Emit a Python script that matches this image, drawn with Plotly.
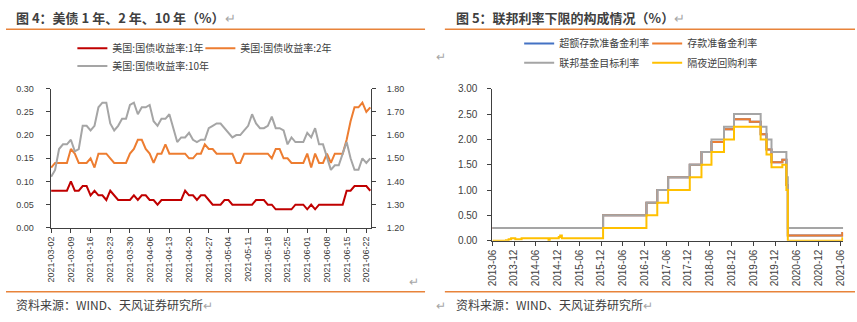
import pandas as pd
import plotly.graph_objects as go

W, H = 857, 322

# ---------------- left chart data (daily, business days) ----------------
dates_left = [d.strftime('%Y-%m-%d') for d in pd.bdate_range('2021-03-02', '2021-06-23')]
ticks_left = ['2021-03-02', '2021-03-09', '2021-03-16', '2021-03-23', '2021-03-30',
              '2021-04-06', '2021-04-13', '2021-04-20', '2021-04-27', '2021-05-04',
              '2021-05-11', '2021-05-18', '2021-05-25', '2021-06-01', '2021-06-08',
              '2021-06-15', '2021-06-22']

us1y = [0.08, 0.08, 0.08, 0.08, 0.08,
        0.10, 0.08, 0.08, 0.09, 0.09,
        0.07, 0.08, 0.07, 0.07, 0.06,
        0.08, 0.07, 0.06, 0.06, 0.06,
        0.06, 0.07, 0.06, 0.07, 0.07,
        0.06, 0.06, 0.05, 0.06, 0.06,
        0.06, 0.06, 0.06, 0.06, 0.08,
        0.07, 0.07, 0.06, 0.07, 0.07,
        0.06, 0.05, 0.05, 0.05, 0.06,
        0.06, 0.05, 0.05, 0.05, 0.05,
        0.05, 0.05, 0.06, 0.06, 0.06,
        0.05, 0.05, 0.04, 0.04, 0.04,
        0.04, 0.04, 0.05, 0.05, 0.05,
        0.04, 0.05, 0.04, 0.05, 0.05,
        0.05, 0.05, 0.05, 0.05, 0.05,
        0.08, 0.08, 0.09, 0.09, 0.09,
        0.09, 0.08]

us2y = [0.13, 0.14, 0.14, 0.14, 0.14,
        0.17, 0.16, 0.14, 0.14, 0.14,
        0.15, 0.13, 0.16, 0.16, 0.16,
        0.15, 0.14, 0.14, 0.14, 0.14,
        0.16, 0.17, 0.19, 0.19, 0.17,
        0.16, 0.14, 0.16, 0.16, 0.18,
        0.16, 0.16, 0.16, 0.16, 0.16,
        0.15, 0.15, 0.16, 0.16, 0.18,
        0.17, 0.17, 0.16, 0.16, 0.16,
        0.16, 0.16, 0.14, 0.14, 0.16,
        0.16, 0.16, 0.16, 0.16, 0.16,
        0.16, 0.15, 0.17, 0.17, 0.15,
        0.15, 0.14, 0.14, 0.14, 0.14,
        0.16, 0.13, 0.16, 0.14, 0.14,
        0.16, 0.14, 0.16, 0.16, 0.16,
        0.19, 0.23, 0.26, 0.26, 0.27,
        0.25, 0.26]

us10y = [1.42, 1.45, 1.54, 1.56, 1.56,
         1.58, 1.53, 1.54, 1.64, 1.64,
         1.62, 1.64, 1.72, 1.74, 1.74,
         1.65, 1.62, 1.64, 1.67, 1.67,
         1.73, 1.74, 1.69, 1.72, 1.72,
         1.73, 1.66, 1.64, 1.67, 1.67,
         1.69, 1.63, 1.57, 1.59, 1.59,
         1.61, 1.58, 1.57, 1.58, 1.58,
         1.63, 1.64, 1.65, 1.65, 1.63,
         1.61, 1.59, 1.60, 1.60, 1.62,
         1.64, 1.69, 1.65, 1.63, 1.63,
         1.64, 1.68, 1.63, 1.63, 1.62,
         1.56, 1.59, 1.57, 1.57, 1.57,
         1.61, 1.59, 1.63, 1.56, 1.56,
         1.51, 1.45, 1.47, 1.47, 1.52,
         1.57, 1.50, 1.45, 1.45, 1.50,
         1.48, 1.50]

# ---------------- right chart data (step series, change dates) ----------------
ticks_right = ['2013-06', '2013-12', '2014-06', '2014-12', '2015-06', '2015-12',
               '2016-06', '2016-12', '2017-06', '2017-12', '2018-06', '2018-12',
               '2019-06', '2019-12', '2020-06', '2020-12', '2021-06']

ioer_dates = ['2013-06-01', '2015-12-17', '2016-12-15', '2017-03-16', '2017-06-15',
              '2017-12-14', '2018-03-22', '2018-06-14', '2018-09-27', '2018-12-20',
              '2019-05-02', '2019-08-01', '2019-09-19', '2019-10-31', '2020-01-30',
              '2020-03-04', '2020-03-16', '2021-06-17', '2021-06-24']
ioer_vals = [0.25, 0.50, 0.75, 1.00, 1.25, 1.50, 1.75, 1.95, 2.20, 2.40,
             2.35, 2.10, 1.80, 1.55, 1.60, 1.10, 0.10, 0.15, 0.15]
iorr_dates = ioer_dates
iorr_vals = [0.25, 0.50, 0.75, 1.00, 1.25, 1.50, 1.75, 1.95, 2.20, 2.40,
             2.35, 2.10, 1.80, 1.55, 1.60, 1.10, 0.10, 0.15, 0.15]

ff_dates = ['2013-06-01', '2015-12-17', '2016-12-15', '2017-03-16', '2017-06-15',
            '2017-12-14', '2018-03-22', '2018-06-14', '2018-09-27', '2018-12-20',
            '2019-08-01', '2019-09-19', '2019-10-31', '2020-03-04', '2020-03-16',
            '2021-06-24']
ff_vals = [0.25, 0.50, 0.75, 1.00, 1.25, 1.50, 1.75, 2.00, 2.25, 2.50,
           2.25, 2.00, 1.75, 1.25, 0.25, 0.25]

rrp_dates = ['2013-06-01', '2013-09-23', '2013-10-15', '2013-11-05', '2013-12-10',
             '2014-02-01', '2014-09-15', '2014-09-25', '2014-12-10', '2014-12-22',
             '2015-01-05', '2015-12-17', '2016-12-15', '2017-03-16', '2017-06-15',
             '2017-12-14', '2018-03-22', '2018-06-14', '2018-09-27', '2018-12-20',
             '2019-08-01', '2019-09-19', '2019-10-31', '2020-01-30', '2020-03-04',
             '2020-03-16', '2021-06-17', '2021-06-24']
rrp_vals = [0.00, 0.01, 0.03, 0.05, 0.03,
            0.05, 0.00, 0.05, 0.07, 0.10,
            0.05, 0.25, 0.50, 0.75, 1.00,
            1.25, 1.50, 1.75, 2.00, 2.25,
            2.00, 1.70, 1.45, 1.50, 1.00,
            0.00, 0.05, 0.05]

RED, ORANGE, GRAY, BLUE, YELLOW = '#C00000', '#ED7D31', '#A5A5A5', '#4472C4', '#FFC000'
TXT = '#404040'
NUMFONT = 'Liberation Sans, Arial, Noto Sans CJK SC, sans-serif'
CJK = 'Noto Sans CJK SC, sans-serif'


def px_x(x):
    return x / W


def px_y(y):
    return 1 - y / H


fig = go.Figure()

fig.add_trace(go.Scatter(x=dates_left, y=us1y, name='美国:国债收益率:1年', mode='lines', legendwidth=83,
                         line=dict(color=RED, width=2), xaxis='x', yaxis='y', legend='legend'))
fig.add_trace(go.Scatter(x=dates_left, y=us2y, name='美国:国债收益率:2年', mode='lines',
                         line=dict(color=ORANGE, width=2), xaxis='x', yaxis='y', legend='legend'))
fig.add_trace(go.Scatter(x=dates_left, y=us10y, name='美国:国债收益率:10年', mode='lines',
                         line=dict(color=GRAY, width=2), xaxis='x', yaxis='y2', legend='legend2'))

fig.add_trace(go.Scatter(x=ioer_dates, y=ioer_vals, name='超额存款准备金利率', mode='lines', legendwidth=83,
                         line=dict(color=BLUE, width=2, shape='hv'), xaxis='x2', yaxis='y3', legend='legend3'))
fig.add_trace(go.Scatter(x=iorr_dates, y=iorr_vals, name='存款准备金利率', mode='lines',
                         line=dict(color=ORANGE, width=2, shape='hv'), xaxis='x2', yaxis='y3', legend='legend3'))
fig.add_trace(go.Scatter(x=ff_dates, y=ff_vals, name='联邦基金目标利率', mode='lines', legendwidth=83,
                         line=dict(color=GRAY, width=2, shape='hv'), xaxis='x2', yaxis='y3', legend='legend4'))
fig.add_trace(go.Scatter(x=rrp_dates, y=rrp_vals, name='隔夜逆回购利率', mode='lines',
                         line=dict(color=YELLOW, width=2, shape='hv'), xaxis='x2', yaxis='y3', legend='legend4'))

axis_common = dict(showline=True, linecolor=TXT, linewidth=1, ticks='outside', ticklen=4,
                   tickcolor=TXT, tickwidth=1, showgrid=False, zeroline=False)

legend_common = dict(orientation='h', xanchor='left', yanchor='middle', bgcolor='rgba(0,0,0,0)',
                     font=dict(family=CJK, size=10, color=TXT), itemwidth=30, borderwidth=0)

fig.update_layout(
    width=W, height=H, margin=dict(l=0, r=0, t=0, b=0),
    paper_bgcolor='white', plot_bgcolor='white',
    xaxis=dict(domain=[px_x(45), px_x(368.5)], anchor='y', type='category',
               range=[-0.15, 81.2], tickmode='array', tickvals=ticks_left, ticktext=ticks_left,
               tickangle=-90, tickfont=dict(family=NUMFONT, size=9, color=TXT), **axis_common),
    yaxis=dict(domain=[px_y(230.7), px_y(86.7)], anchor='x', range=[0, 0.30], dtick=0.05,
               tickformat='.2f', ticklabelstandoff=10,
               tickfont=dict(family=NUMFONT, size=9, color=TXT), **axis_common),
    yaxis2=dict(overlaying='y', side='right', anchor='x', range=[1.20, 1.80], dtick=0.1,
                tickformat='.2f', ticklabelstandoff=9,
                tickfont=dict(family=NUMFONT, size=9, color=TXT), **axis_common),
    xaxis2=dict(domain=[px_x(491), px_x(845.1)], anchor='y3', type='date',
                range=['2013-06-01', '2021-06-24'], tickmode='array',
                tickvals=[t + '-01' for t in ticks_right], ticktext=ticks_right,
                tickangle=-90, tickfont=dict(family=NUMFONT, size=10, color=TXT), **axis_common),
    yaxis3=dict(domain=[px_y(244), px_y(86.7)], anchor='x2', range=[0, 3], dtick=0.5,
                tickformat='.2f', ticklabelstandoff=8,
                tickfont=dict(family=NUMFONT, size=10, color=TXT), **axis_common),
    legend=dict(x=px_x(67), y=px_y(44.8), **legend_common),
    legend2=dict(x=px_x(67), y=px_y(63.2), **legend_common),
    legend3=dict(x=px_x(518), y=px_y(39.8), **legend_common),
    legend4=dict(x=px_x(518), y=px_y(59.8), **legend_common),
    showlegend=True,
)

# separator lines
for (x0, x1) in [(0, 423), (443, 857)]:
    for y in [25, 297]:
        fig.add_shape(type='line', xref='paper', yref='paper', x0=px_x(x0), x1=px_x(x1),
                      y0=px_y(y), y1=px_y(y), line=dict(color='#E8833A', width=1.5))

RET = "<span style='color:#A6A6A6;font-weight:normal'>↵</span>"
annos = [
    (8, 13, "<b>图 4：美债 1 年、2 年、10 年（%）</b>" + RET, 13),
    (452, 13, "<b>图 5：联邦利率下限的构成情况（%）</b>" + RET, 13),
    (8, 310, "资料来源：WIND、天风证券研究所" + RET, 12),
    (452, 310, "资料来源：WIND、天风证券研究所" + RET, 12),
    (405, 285, RET, 12),
    (432, 52, RET, 12),
    (432, 310, RET, 12),
]
for x, y, t, s in annos:
    fig.add_annotation(x=px_x(x), y=px_y(y), xref='paper', yref='paper', text=t,
                       showarrow=False, xanchor='left', yanchor='middle',
                       font=dict(family=CJK, size=s, color=TXT))

fig.write_html('out.html')
